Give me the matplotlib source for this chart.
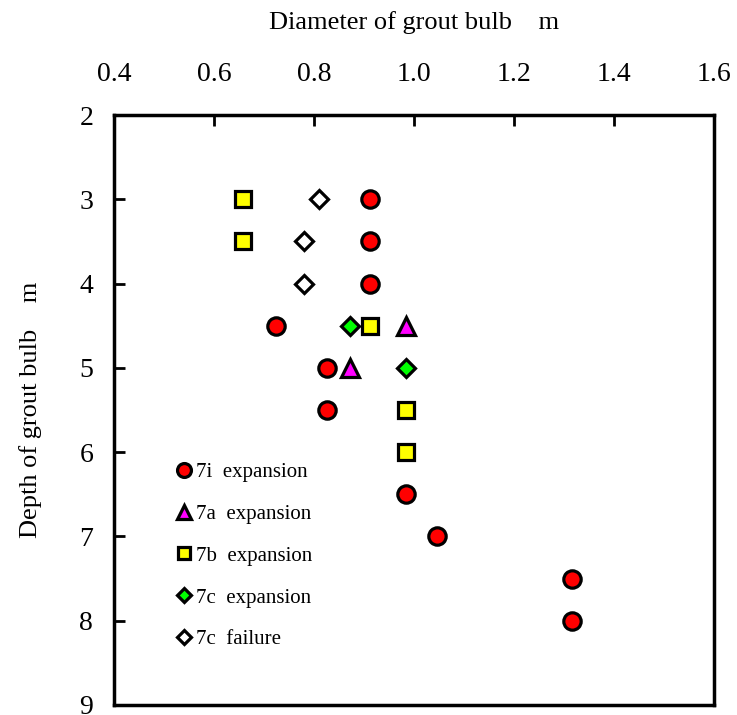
import matplotlib.pyplot as plt

plt.rcParams['font.family'] = ['Liberation Serif', 'DejaVu Serif']

# depth (m) vs diameter (m) of grout bulb for each test
d_7i = [0.912, 0.912, 0.912, 0.724, 0.826, 0.826, 0.984, 1.046, 1.316, 1.316]
z_7i = [3.0, 3.5, 4.0, 4.5, 5.0, 5.5, 6.5, 7.0, 7.5, 8.0]

d_7a = [0.984, 0.872]
z_7a = [4.5, 5.0]

d_7b = [0.658, 0.658, 0.912, 0.984, 0.984]
z_7b = [3.0, 3.5, 4.5, 5.5, 6.0]

d_7c = [0.872, 0.984]
z_7c = [4.5, 5.0]

d_7c_fail = [0.81, 0.78, 0.78]
z_7c_fail = [3.0, 3.5, 4.0]

x_ticks = [0.4, 0.6, 0.8, 1.0, 1.2, 1.4, 1.6]
y_ticks = [2, 3, 4, 5, 6, 7, 8, 9]

fig = plt.figure(figsize=(7.37, 7.15), dpi=100)
ax = fig.add_axes([114 / 737, 10 / 715, 600 / 737, 590 / 715])

mk = dict(linestyle='none', markeredgecolor='black', markeredgewidth=2.3)
ax.plot(d_7i, z_7i, 'o', markerfacecolor='red', markersize=12.5, label='7i  expansion', **mk)
ax.plot(d_7a, z_7a, '^', markerfacecolor='magenta', markersize=12.5, label='7a  expansion', **mk)
ax.plot(d_7b, z_7b, 's', markerfacecolor='yellow', markersize=11.5, label='7b  expansion', **mk)
ax.plot(d_7c, z_7c, 'D', markerfacecolor='#00ff00', markersize=9, label='7c  expansion', **mk)
ax.plot(d_7c_fail, z_7c_fail, 'D', markerfacecolor='white', markersize=9, label='7c  failure', **mk)

ax.set_xlim(0.4, 1.6)
ax.set_ylim(9, 2)
ax.set_xticks(x_ticks)
ax.set_xticklabels([f'{v:.1f}' for v in x_ticks])
ax.set_yticks(y_ticks)
ax.xaxis.tick_top()
ax.xaxis.set_label_position('top')
ax.tick_params(axis='both', direction='in', length=8, width=2, labelsize=20)
ax.tick_params(axis='x', pad=20)
ax.tick_params(axis='y', pad=15)
for s in ax.spines.values():
    s.set_linewidth(2.5)

ax.set_xlabel('Diameter of grout bulb    m', fontsize=19, labelpad=24)
ax.set_ylabel('Depth of grout bulb    m', fontsize=19, labelpad=27)

leg = ax.legend(loc='upper left', bbox_to_anchor=(0.07, 0.443), frameon=False,
                fontsize=15, handlelength=0.9, handletextpad=0.1,
                labelspacing=1.07, markerscale=0.8)

fig.savefig('out.png', dpi=100)
